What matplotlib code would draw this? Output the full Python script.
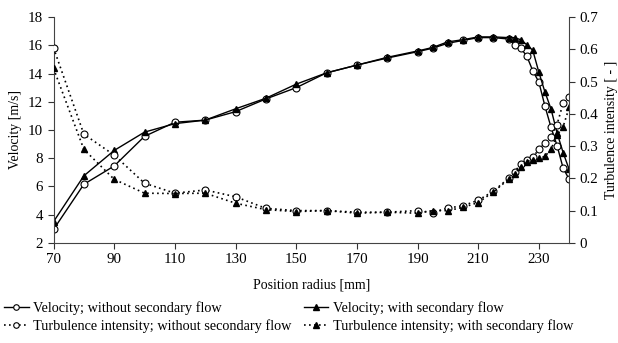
import numpy as np
import matplotlib
matplotlib.use("Agg")
import matplotlib.pyplot as plt
from matplotlib.lines import Line2D

plt.rcParams['font.family'] = ['Liberation Serif', 'DejaVu Serif']
plt.rcParams['font.size'] = 10

# position radius [mm]
radius = [70, 80, 90, 100, 110, 120, 130, 140, 150, 160, 170, 180, 190, 195,
          200, 205, 210, 215, 220, 222, 224, 226, 228, 230, 232, 234, 236, 238, 240]

# velocity [m/s]
vel_without = [2.95, 6.15, 7.45, 9.55, 10.55, 10.7, 11.3, 12.2, 13.0, 14.05, 14.6, 15.1, 15.55, 15.8,
               16.15, 16.35, 16.55, 16.55, 16.45, 16.05, 15.8, 15.25, 14.2, 13.4, 11.7, 10.2, 8.9, 7.3, 6.5]
vel_with = [3.5, 6.75, 8.55, 9.85, 10.45, 10.7, 11.5, 12.25, 13.25, 14.05, 14.6, 15.15, 15.6, 15.85,
            16.25, 16.4, 16.6, 16.6, 16.55, 16.55, 16.4, 16.05, 15.65, 14.1, 12.7, 11.5, 9.8, 8.4, 7.2]

# turbulence intensity [-]
turb_without = [0.605, 0.337, 0.272, 0.185, 0.154, 0.164, 0.143, 0.107, 0.1, 0.1, 0.095, 0.095, 0.1, 0.094,
                0.108, 0.115, 0.132, 0.16, 0.2, 0.22, 0.244, 0.257, 0.265, 0.29, 0.31, 0.328, 0.367, 0.433, 0.453]
turb_with = [0.541, 0.29, 0.197, 0.154, 0.153, 0.154, 0.123, 0.103, 0.097, 0.1, 0.092, 0.095, 0.092, 0.1,
             0.1, 0.11, 0.125, 0.158, 0.197, 0.214, 0.236, 0.252, 0.258, 0.262, 0.268, 0.29, 0.334, 0.36, 0.42]

labels = ["Velocity; without secondary flow",
          "Turbulence intensity; without secondary flow",
          "Velocity; with secondary flow",
          "Turbulence intensity; with secondary flow"]

dots = (0, (1, 2))

fig = plt.figure(figsize=(6.18, 3.43), dpi=100)
ax = fig.add_axes([0.0866, 0.292, 0.8344, 0.658])
ax2 = ax.twinx()

ax.plot(radius, vel_without, '-', color='black', lw=1.0, marker='o', ms=5,
        mfc='white', mec='black', mew=0.8)
ax.plot(radius, vel_with, '-', color='black', lw=1.0, marker='^', ms=5,
        mfc='black', mec='black')
ax2.plot(radius, turb_without, linestyle=dots, color='black', lw=1.2, marker='o', ms=5,
         mfc='white', mec='black', mew=0.8)
ax2.plot(radius, turb_with, linestyle=dots, color='black', lw=1.2, marker='^', ms=5,
         mfc='black', mec='black')

ax.set_xlim(70, 240)
ax.set_ylim(2, 18)
ax2.set_ylim(0, 0.7)
ax.set_xticks(np.arange(70, 231, 20))
ax.set_yticks(np.arange(2, 19, 2))
ax2.set_yticks(np.arange(0, 0.71, 0.1))
ax2.set_yticklabels(['0'] + ['{:.1f}'.format(v) for v in np.arange(0.1, 0.71, 0.1)])

for a in (ax, ax2):
    a.spines['top'].set_visible(False)
    a.tick_params(direction='out', length=4, width=0.8, colors='#333333',
                  labelcolor='black', labelsize=10.8)
ax.spines['right'].set_visible(False)
for s in ['left', 'bottom']:
    ax.spines[s].set_color('#444444')
ax2.spines['right'].set_color('#444444')
ax2.spines['left'].set_visible(False)
ax2.spines['bottom'].set_visible(False)

ax.set_xlabel("Position radius [mm]", labelpad=9)
ax.set_ylabel("Velocity [m/s]", labelpad=4)
ax2.set_ylabel("Turbulence intensity [ - ]", labelpad=5)

handles = [
    Line2D([], [], color='black', lw=1.0, marker='o', ms=4, mfc='white', mec='black', mew=0.8),
    Line2D([], [], color='black', lw=1.2, linestyle=dots, marker='o', ms=4, mfc='white', mec='black', mew=0.8),
    Line2D([], [], color='black', lw=1.0, marker='^', ms=4, mfc='black', mec='black'),
    Line2D([], [], color='black', lw=1.2, linestyle=dots, marker='^', ms=4, mfc='black', mec='black'),
]
fig.legend(handles, labels, loc='upper left', bbox_to_anchor=(0.0, 0.135), ncol=2,
           frameon=False, handlelength=1.7, handletextpad=0.3, columnspacing=0.9,
           labelspacing=0.3, borderaxespad=0.2, borderpad=0.1, fontsize=10.3)

fig.savefig("out.png", dpi=100)
